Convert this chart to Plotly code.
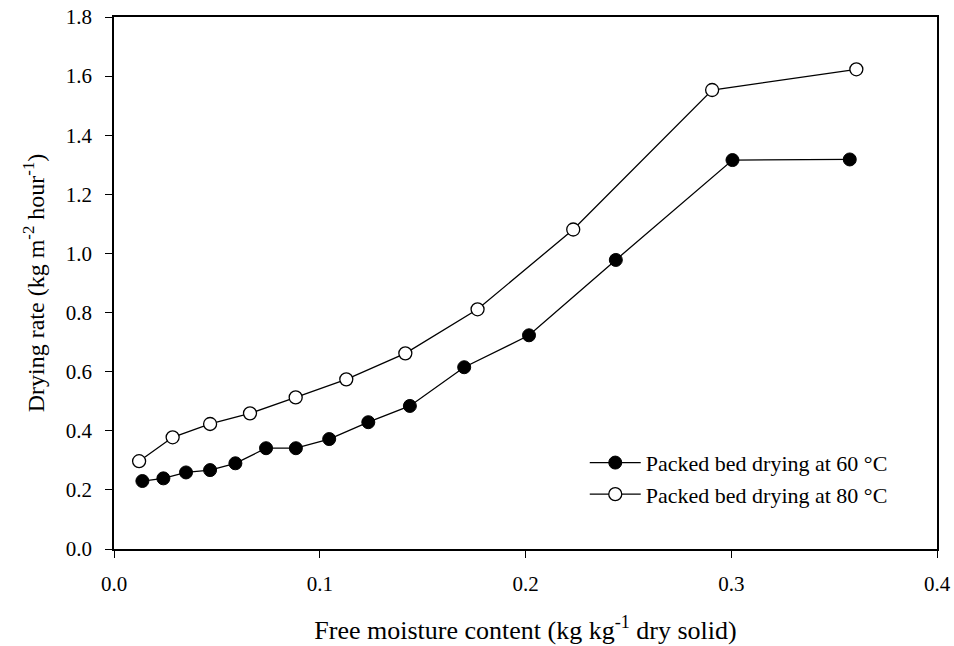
import plotly.graph_objects as go

# Free moisture content (kg/kg dry solid) and drying rate (kg m^-2 h^-1)
moisture_60 = [0.0138, 0.0240, 0.0350, 0.0467, 0.0590, 0.0739, 0.0884, 0.1046,
               0.1236, 0.1438, 0.1702, 0.2017, 0.2439, 0.3006, 0.3576]
rate_60 = [0.230, 0.239, 0.259, 0.267, 0.290, 0.341, 0.341, 0.372,
           0.429, 0.484, 0.615, 0.723, 0.978, 1.316, 1.318]

moisture_80 = [0.0122, 0.0285, 0.0467, 0.0661, 0.0883, 0.1129, 0.1416, 0.1767,
               0.2232, 0.2907, 0.3608]
rate_80 = [0.297, 0.378, 0.423, 0.459, 0.513, 0.574, 0.662, 0.811,
           1.081, 1.553, 1.623]

x_ticks = [0.0, 0.1, 0.2, 0.3, 0.4]
y_ticks = [0.0, 0.2, 0.4, 0.6, 0.8, 1.0, 1.2, 1.4, 1.6, 1.8]

FONT = "Liberation Serif"

fig = go.Figure()
fig.add_trace(go.Scatter(
    x=moisture_60, y=rate_60, mode="lines+markers",
    name="Packed bed drying at 60 °C",
    line=dict(color="black", width=1.3),
    marker=dict(symbol="circle", size=13, color="black",
                line=dict(color="black", width=1)),
))
fig.add_trace(go.Scatter(
    x=moisture_80, y=rate_80, mode="lines+markers",
    name="Packed bed drying at 80 °C",
    line=dict(color="black", width=1.3),
    marker=dict(symbol="circle", size=13, color="white",
                line=dict(color="black", width=1.3)),
))

fig.update_layout(
    width=954, height=646,
    margin=dict(l=114, r=17, t=17, b=97),
    paper_bgcolor="white", plot_bgcolor="white",
    font=dict(family=FONT, color="black", size=21),
    showlegend=True,
    legend=dict(x=0.572, y=0.132, xanchor="left", yanchor="middle",
                bgcolor="rgba(0,0,0,0)", font=dict(size=22, family=FONT),
                itemwidth=51, tracegroupgap=0),
    xaxis=dict(
        range=[0.0, 0.4], tickvals=x_ticks,
        ticktext=[f"{v:.1f}" for v in x_ticks],
        ticks="outside", ticklen=7, tickwidth=1.3, tickcolor="black",
        showline=True, linecolor="black", linewidth=1.5, mirror=True,
        showgrid=False, zeroline=False, automargin=False,
        ticklabelstandoff=8,
        tickfont=dict(size=21, family=FONT),
        title=dict(text="Free moisture content (kg kg<sup>-1</sup> dry solid)",
                   font=dict(size=26, family=FONT), standoff=26),
    ),
    yaxis=dict(
        range=[0.0, 1.8], tickvals=y_ticks,
        ticktext=[f"{v:.1f}" for v in y_ticks],
        ticks="outside", ticklen=7, tickwidth=1.3, tickcolor="black",
        showline=True, linecolor="black", linewidth=1.5, mirror=True,
        showgrid=False, zeroline=False, automargin=False,
        ticklabelstandoff=9,
        tickfont=dict(size=21, family=FONT),
        title=dict(text="Drying rate (kg m<sup>-2</sup> hour<sup>-1</sup>)",
                   font=dict(size=24, family=FONT), standoff=14),
    ),
)

fig.write_html("out.html")
